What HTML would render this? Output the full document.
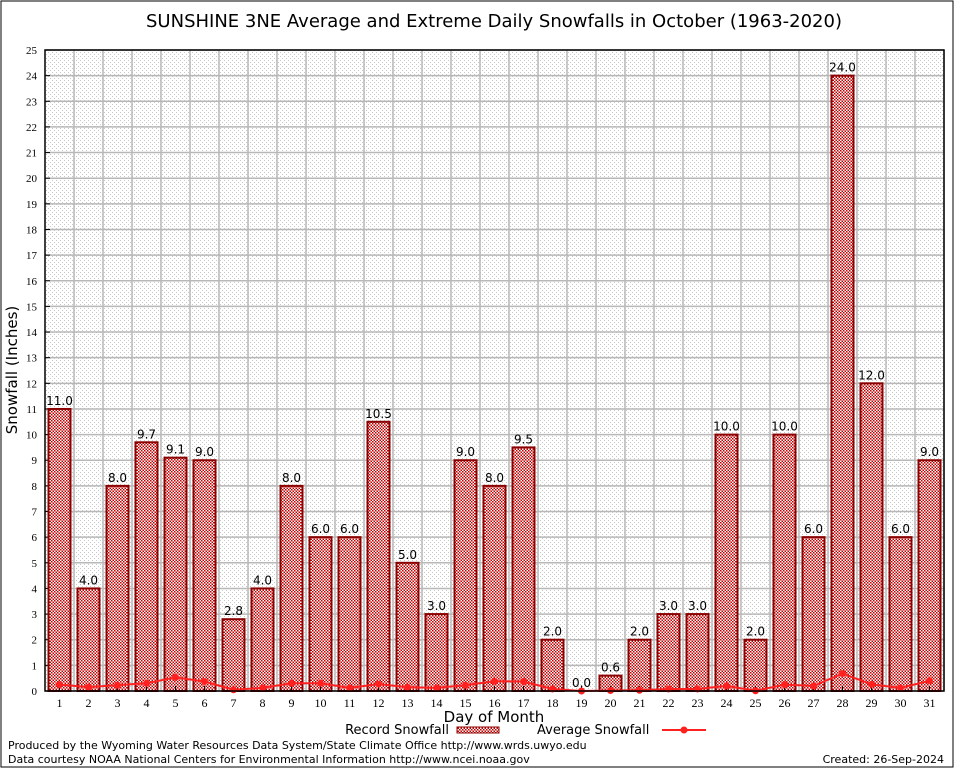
<!DOCTYPE html>
<html><head><meta charset="utf-8"><style>
body{margin:0;background:#fff;}
svg{display:block;font-family:"DejaVu Sans","Liberation Sans",sans-serif;}
</style></head><body>
<svg id="chart" width="954" height="768">
<defs>
<pattern id="hatch" width="3" height="3" patternUnits="userSpaceOnUse">
<rect width="3" height="3" fill="#fff"/><rect width="1.5" height="1.5" fill="#c00000"/><rect x="1.5" y="1.5" width="1.5" height="1.5" fill="#c00000"/>
</pattern>
<pattern id="dots" width="4" height="4" patternUnits="userSpaceOnUse">
<rect width="4" height="4" fill="#fff"/><rect width="1" height="1" fill="#c8c8c8"/><rect x="2" y="2" width="1" height="1" fill="#c8c8c8"/>
</pattern>
</defs>
<rect x="1" y="1" width="952" height="766" fill="none" stroke="#000"/>
<text x="494" y="27" font-size="18" text-anchor="middle">SUNSHINE 3NE Average and Extreme Daily Snowfalls in October (1963-2020)</text>
<g id="plot"></g>
<text transform="translate(17,370) rotate(-90)" font-size="15" text-anchor="middle">Snowfall (Inches)</text>
<text x="494" y="722" font-size="15" text-anchor="middle">Day of Month</text>
<g>
<text x="449" y="734" font-size="13" text-anchor="end">Record Snowfall</text>
<rect x="457" y="727" width="42" height="6" fill="url(#hatch)" stroke="#8b0000"/>
</g>
<g>
<text x="537" y="734" font-size="13">Average Snowfall</text>
<line x1="662" y1="730" x2="706" y2="730" stroke="#ff2020" stroke-width="2"/>
<circle cx="684" cy="730" r="3.5" fill="#ff2020"/>
</g>
<text x="8" y="749" font-size="11">Produced by the Wyoming Water Resources Data System/State Climate Office http://www.wrds.uwyo.edu</text>
<text x="8" y="763" font-size="11">Data courtesy NOAA National Centers for Environmental Information http://www.ncei.noaa.gov</text>
<text x="944" y="763" font-size="11" text-anchor="end">Created: 26-Sep-2024</text>
</svg>
<script>
const days=[1,2,3,4,5,6,7,8,9,10,11,12,13,14,15,16,17,18,19,20,21,22,23,24,25,26,27,28,29,30,31];
const records=[11.0,4.0,8.0,9.7,9.1,9.0,2.8,4.0,8.0,6.0,6.0,10.5,5.0,3.0,9.0,8.0,9.5,2.0,0.0,0.6,2.0,3.0,3.0,10.0,2.0,10.0,6.0,24.0,12.0,6.0,9.0];
const averages=[0.25,0.15,0.23,0.3,0.53,0.37,0.05,0.12,0.3,0.3,0.12,0.27,0.15,0.12,0.23,0.38,0.37,0.08,0.0,0.02,0.03,0.08,0.08,0.2,0.01,0.25,0.2,0.68,0.26,0.12,0.4];
const yTicks=[0,1,2,3,4,5,6,7,8,9,10,11,12,13,14,15,16,17,18,19,20,21,22,23,24,25];
const NS='http://www.w3.org/2000/svg';
const L=45,R=944,T=50,B=691,YMAX=25;
const step=(R-L)/days.length;
const x=d=>L+step*(d-0.5);
const y=v=>B-(B-T)*v/YMAX;
const g=document.getElementById('plot');
function mk(tag,attrs,parent){const e=document.createElementNS(NS,tag);for(const k in attrs)e.setAttribute(k,attrs[k]);(parent||g).appendChild(e);return e;}
const bg=mk('rect',{x:L,y:T,width:R-L,height:B-T,fill:'url(#dots)'});


yTicks.forEach(t=>{
 const ln=mk('line',{x1:L,x2:R,y1:y(t),y2:y(t),stroke:'#b8b8b8','stroke-width':1.5});
 
 
 const tk=mk('line',{x1:L,x2:L+5,y1:y(t),y2:y(t),stroke:'#000'});
 
 
 const tx=mk('text',{x:L-8,y:y(t)+4,'font-size':11,'text-anchor':'end','font-family':'Liberation Serif,serif'});
 tx.textContent=t;
 
 
});
days.forEach(d=>{
 const ln=mk('line',{x1:L+step*d,x2:L+step*d,y1:T,y2:B,stroke:'#b8b8b8','stroke-width':1.5});
 
 
});
days.forEach((d,i)=>{
 const v=records[i];
 const b=mk('rect',{x:x(d)-11,y:y(v),width:22,height:B-y(v),fill:'url(#hatch)',stroke:'#8b0000','stroke-width':2});
 
 
 const lb=mk('text',{x:x(d),y:y(v)-4,'font-size':12,'text-anchor':'middle'});
 lb.textContent=v.toFixed(1);
 
 
 const tk=mk('line',{x1:x(d),x2:x(d),y1:B,y2:B-5,stroke:'#000'});
 
 
 const tx=mk('text',{x:x(d),y:B+16,'font-size':12,'text-anchor':'middle','font-family':'Liberation Serif,serif'});
 tx.textContent=d;
 
 
});
const pts=days.map((d,i)=>x(d)+','+y(averages[i])).join(' ');
const pl=mk('polyline',{points:pts,fill:'none',stroke:'#ff2020','stroke-width':2});


days.forEach((d,i)=>{
 const c=mk('circle',{cx:x(d),cy:y(averages[i]),r:3.5,fill:'#ff2020'});
 
 
});
const fr=mk('rect',{x:L,y:T,width:R-L,height:B-T,fill:'none',stroke:'#000','stroke-width':1.5});


</script>
</body></html>
